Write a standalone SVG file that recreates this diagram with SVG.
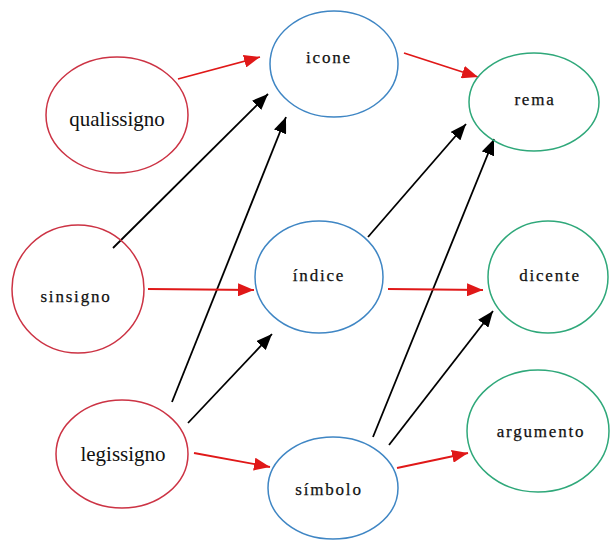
<svg xmlns="http://www.w3.org/2000/svg" width="610" height="541" viewBox="0 0 610 541">
<style>
.r{fill:none;stroke:#cc3344;stroke-width:1.5}
.b{fill:none;stroke:#3f86c4;stroke-width:1.5}
.g{fill:none;stroke:#2fa87a;stroke-width:1.5}
.big{font-family:"Liberation Serif",serif;font-size:21px;fill:#111;text-anchor:middle}
.sm{font-family:"Liberation Serif",serif;font-size:17px;letter-spacing:1.8px;fill:#111;stroke:#111;stroke-width:0.25;text-anchor:middle}
.ar{stroke:#e01818;stroke-width:1.8;fill:none}
.ak{stroke:#000;stroke-width:1.8;fill:none}
</style>
<defs>
<marker id="mr" markerUnits="userSpaceOnUse" markerWidth="17" markerHeight="13" refX="16" refY="6.5" orient="auto"><path d="M0,0 L16,6.5 L0,13 Z" fill="#e01818"/></marker>
<marker id="mk" markerUnits="userSpaceOnUse" markerWidth="17" markerHeight="13" refX="16" refY="6.5" orient="auto"><path d="M0,0 L16,6.5 L0,13 Z" fill="#000"/></marker>
</defs>
<rect width="610" height="541" fill="#fff"/>
<g id="connectors">
<line class="ar" x1="178" y1="79" x2="260" y2="57" marker-end="url(#mr)"/>
<line class="ar" x1="404" y1="53" x2="478" y2="77" marker-end="url(#mr)"/>
<line class="ak" x1="113" y1="248" x2="268" y2="94" marker-end="url(#mk)"/>
<line class="ak" x1="172" y1="402" x2="286" y2="117" marker-end="url(#mk)"/>
<line class="ar" x1="148" y1="289" x2="254" y2="290" marker-end="url(#mr)"/>
<line class="ak" x1="188" y1="423" x2="272" y2="334" marker-end="url(#mk)"/>
<line class="ar" x1="194" y1="453" x2="270" y2="467" marker-end="url(#mr)"/>
<line class="ak" x1="368" y1="237" x2="466" y2="124" marker-end="url(#mk)"/>
<line class="ak" x1="373" y1="437" x2="494" y2="139" marker-end="url(#mk)"/>
<line class="ar" x1="388" y1="289" x2="483" y2="290" marker-end="url(#mr)"/>
<line class="ak" x1="389" y1="445" x2="493" y2="311" marker-end="url(#mk)"/>
<line class="ar" x1="397" y1="468" x2="468" y2="453" marker-end="url(#mr)"/>
</g>
<g id="qualissigno"><ellipse class="r" cx="117" cy="115" rx="71" ry="58"/><text class="big" x="117" y="126">qualissigno</text></g>
<g id="sinsigno"><ellipse class="r" cx="78" cy="289" rx="66" ry="64"/><text class="sm" x="76" y="302" font-size="15.5" letter-spacing="1.8">sinsigno</text></g>
<g id="legissigno"><ellipse class="r" cx="122" cy="454" rx="66" ry="54"/><text class="big" x="123" y="461">legissigno</text></g>
<g id="icone"><ellipse class="b" cx="334" cy="64" rx="64" ry="53"/><text class="sm" x="329" y="63">icone</text></g>
<g id="indice"><ellipse class="b" cx="319" cy="277" rx="64" ry="56"/><text class="sm" x="319" y="281" letter-spacing="1.4">índice</text></g>
<g id="simbolo"><ellipse class="b" cx="333" cy="488" rx="65" ry="51"/><text class="sm" x="329" y="495">símbolo</text></g>
<g id="rema"><ellipse class="g" cx="534" cy="102" rx="65" ry="49"/><text class="sm" x="535" y="105">rema</text></g>
<g id="dicente"><ellipse class="g" cx="548" cy="277" rx="60" ry="56"/><text class="sm" x="550" y="281">dicente</text></g>
<g id="argumento"><ellipse class="g" cx="538" cy="431" rx="71" ry="61"/><text class="sm" x="541" y="437">argumento</text></g>
</svg>
